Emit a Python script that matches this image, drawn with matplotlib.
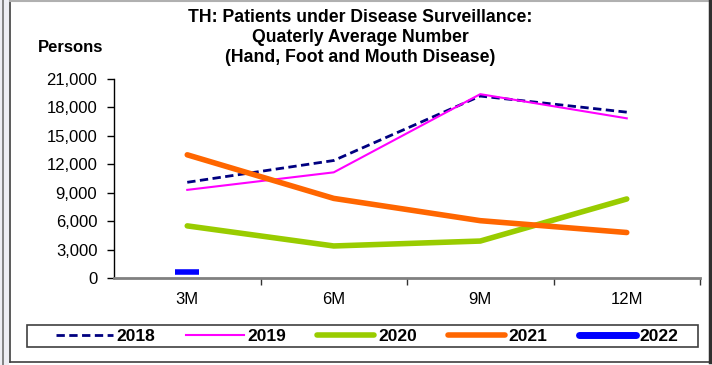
import matplotlib
matplotlib.use("Agg")
import matplotlib.pyplot as plt
from matplotlib.lines import Line2D
from matplotlib.patches import Rectangle

plt.rcParams['font.family'] = ['Liberation Sans', 'DejaVu Sans']

categories = ["3M", "6M", "9M", "12M"]
s2018 = [10100, 12400, 19200, 17500]
s2019 = [9300, 11150, 19400, 16850]
s2020 = [5500, 3380, 3900, 8340]
s2021 = [13000, 8400, 6050, 4800]
s2022 = [650]
yticks = [0, 3000, 6000, 9000, 12000, 15000, 18000, 21000]
title_lines = ["TH: Patients under Disease Surveillance:",
               "Quaterly Average Number",
               "(Hand, Foot and Mouth Disease)"]

W, H = 712, 365
fig = plt.figure(figsize=(W / 100, H / 100), dpi=100)
fig.patch.set_facecolor("white")

def fx(px):
    return px / W

def fy(py):
    return 1 - py / H

# outer frame and left strip
fig.patches.append(Rectangle((0, 0), fx(9), 1, transform=fig.transFigure,
                             facecolor="#eeeef4", edgecolor="none", zorder=0))
fig.lines.append(Line2D([fx(3), fx(3)], [0, 1], transform=fig.transFigure,
                        color="#707070", lw=1.2))
fig.lines.append(Line2D([fx(10), fx(10)], [fy(362), 1], transform=fig.transFigure,
                        color="#404040", lw=1.2))
fig.lines.append(Line2D([fx(10), fx(710)], [fy(362), fy(362)], transform=fig.transFigure,
                        color="#404040", lw=1.2))
fig.lines.append(Line2D([fx(10), fx(710)], [fy(0.5), fy(0.5)], transform=fig.transFigure,
                        color="#b0b0b0", lw=1.5))
fig.lines.append(Line2D([fx(710), fx(710)], [fy(362), 1], transform=fig.transFigure,
                        color="#303030", lw=2.5))

ax = fig.add_axes([fx(114), fy(278), fx(700) - fx(114), fy(79) - fy(278)])
x = list(range(len(categories)))

ax.plot(x, s2018, color="#000080", lw=2, ls=(0, (3, 1.6)), label="2018")
ax.plot(x, s2019, color="#ff00ff", lw=1.5, label="2019")
ax.plot(x, s2020, color="#99cc00", lw=4, solid_capstyle="round", label="2020")
ax.plot(x, s2021, color="#ff6600", lw=4, solid_capstyle="round", label="2021")
ax.plot(x[:len(s2022)], s2022, color="#0000ff", marker="_", markersize=17,
        markeredgewidth=4, linestyle="None")

ax.set_xlim(-0.5, 3.5)
ax.set_ylim(0, 21000)
ax.set_yticks(yticks)
ax.set_yticklabels([f"{v:,}" for v in yticks], fontsize=12)
ax.set_xticks(x)
ax.set_xticklabels(categories, fontsize=12)
ax.set_xticks([0.5, 1.5, 2.5, 3.5], minor=True)
ax.tick_params(axis="x", which="major", length=0, pad=10)
ax.tick_params(axis="x", which="minor", length=5, width=1, color="#333333", direction="out")
ax.tick_params(axis="y", length=5, width=1, direction="out", pad=7)
for s in ["top", "right"]:
    ax.spines[s].set_visible(False)
ax.spines["left"].set_color("black")
ax.spines["left"].set_linewidth(1)
ax.spines["bottom"].set_color("#808080")
ax.spines["bottom"].set_linewidth(2)

for i, line in enumerate(title_lines):
    fig.text(fx(360), fy(18 + 20 * i), line, ha="center", va="center",
             fontsize=12.7, fontweight="bold")
fig.text(fx(71), fy(47), "Persons", ha="center", va="center", fontsize=12, fontweight="bold")

# legend box
fig.patches.append(Rectangle((fx(27), fy(347)), fx(698) - fx(27), fy(325) - fy(347),
                             transform=fig.transFigure, facecolor="white",
                             edgecolor="#404040", lw=1.2, zorder=1))

handles = [
    Line2D([], [], color="#000080", lw=2, ls=(0, (3, 1.6))),
    Line2D([], [], color="#ff00ff", lw=1.5),
    Line2D([], [], color="#99cc00", lw=4, solid_capstyle="round"),
    Line2D([], [], color="#ff6600", lw=4, solid_capstyle="round"),
    Line2D([], [], color="#0000ff", lw=5, solid_capstyle="round"),
]
labels = ["2018", "2019", "2020", "2021", "2022"]
leg = fig.legend(handles, labels, loc="center", ncol=5,
                 bbox_to_anchor=(fx(367), fy(336)), frameon=False,
                 prop={"size": 12.5, "weight": "bold"}, handlelength=3.3, handletextpad=0.2,
                 columnspacing=1.8, borderpad=0.2)
leg.set_zorder(2)

fig.savefig("out.png", dpi=100)
